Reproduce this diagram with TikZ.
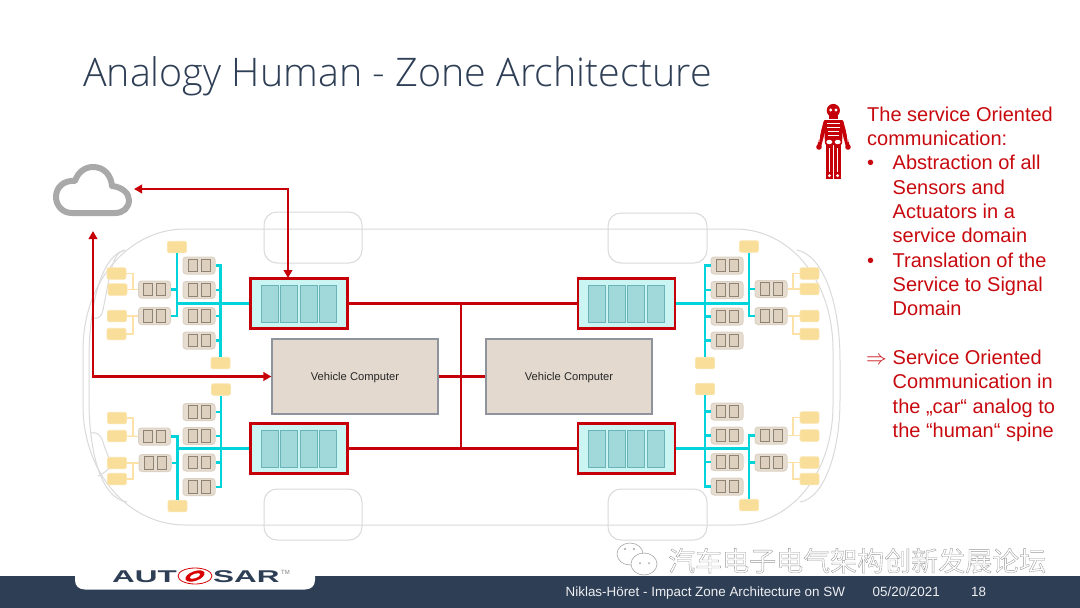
\documentclass[tikz,border=0pt]{standalone}
\usepackage{fontspec}
\usepackage{graphicx}
\usetikzlibrary{arrows.meta,calc}
\setmainfont{Liberation Sans}
\newfontfamily\titlefont{Open Sans Light}
\newfontfamily\cjkfont{Noto Sans CJK SC}
\definecolor{navy}{HTML}{2D3E55}
\definecolor{redline}{HTML}{C60008}
\definecolor{redtext}{HTML}{C80A0F}
\definecolor{busc}{HTML}{00D4DA}
\definecolor{yelf}{HTML}{F8DE98}
\definecolor{yeld}{HTML}{FBE5AE}
\definecolor{oral}{HTML}{FCE2A8}
\definecolor{ecuf}{HTML}{E6DDD0}
\definecolor{ecud}{HTML}{DCD2C4}
\definecolor{ecui}{HTML}{DDD0BF}
\definecolor{ecub}{HTML}{8F8373}
\definecolor{vcf}{HTML}{E3D9CE}
\definecolor{vcd}{HTML}{8E939C}
\definecolor{zonef}{HTML}{CBF5F3}
\definecolor{barf}{HTML}{A1D8DA}
\definecolor{bard}{HTML}{68B4B6}
\definecolor{carc}{HTML}{DADADA}
\definecolor{cloudc}{HTML}{A9A9A9}
\tikzset{
  ecubox/.style={draw=ecud,fill=ecuf,rounded corners=3pt,line width=1pt,minimum width=32pt,minimum height=17pt,inner sep=0pt},
  ecucell/.style={draw=ecub,fill=ecui,line width=1pt,minimum width=9pt,minimum height=12.5pt,inner sep=0pt},
  yelbox/.style={draw=yeld,fill=yelf,rounded corners=2pt,line width=0.8pt,minimum width=19pt,minimum height=11.5pt,inner sep=0pt},
  zonebox/.style={draw=redline,fill=zonef,line width=2.5pt,minimum width=97pt,minimum height=50pt,inner sep=0pt},
  zonebar/.style={draw=bard,fill=barf,line width=1pt,minimum width=17pt,minimum height=37pt,inner sep=0pt},
  vcbox/.style={draw=vcd,fill=vcf,line width=1.2pt,minimum width=166pt,minimum height=75pt,inner sep=0pt,font=\fontsize{11.2}{13}\selectfont,text=black!85},
  bus/.style={draw=busc,line width=2.5pt},
  ora/.style={draw=oral,line width=1.3pt},
  spine/.style={draw=redline,line width=2.5pt},
  sig/.style={draw=redline,line width=2.5pt,arrows={Triangle[length=8pt,width=8.5pt]-Triangle[length=8pt,width=8.5pt]}},
  wheel/.style={draw=carc,line width=1pt,rounded corners=13pt},
  carline/.style={draw=carc,line width=1pt},
  bodytext/.style={anchor=base west,inner sep=0pt,text=redtext,font=\fontsize{20}{24}\selectfont},
  foot/.style={anchor=base west,inner sep=0pt,text=white!92!navy,font=\fontsize{13.4}{15}\selectfont},
  logotext/.style={anchor=base west,inner sep=0pt,text=navy,font=\bfseries\fontsize{17}{18}\selectfont},
  x=1pt,y=-1pt
}
\newcommand\ecu[3]{%
  \node[ecubox] (#1) at (#2,#3) {};
  \node[ecucell] (#1a) at (#2-6.5,#3) {};
  \node[ecucell] (#1b) at (#2+6.5,#3) {};
}
\newcommand\yel[3]{\node[yelbox] (#1) at (#2,#3) {};}
\newcommand\zone[3]{%
  \node[zonebox] (#1) at (#2,#3) {};
  \node[zonebar] (#1a) at (#2-29.5,#3) {};
  \node[zonebar] (#1b) at (#2-10,#3) {};
  \node[zonebar] (#1c) at (#2+9.5,#3) {};
  \node[zonebar] (#1d) at (#2+29,#3) {};
}
\begin{document}
\begin{tikzpicture}
\useasboundingbox (0,0) rectangle (1080,608);
\fill[white] (0,0) rectangle (1080,608);

% car outline
\draw[carline] (185,229) -- (735,229) .. controls (790,229) and (833,280) .. (833,350) -- (833,405) .. controls (833,475) and (790,525) .. (735,525) -- (185,525) .. controls (130,525) and (83,475) .. (83,405) -- (83,350) .. controls (83,280) and (130,229) .. (185,229);
\draw[carline] (125,250) .. controls (103,255) and (89,300) .. (89,360) -- (89,400) .. controls (89,450) and (100,498) .. (127,502);
\draw[carline] (797,250) .. controls (822,255) and (840,300) .. (840,360) -- (840,400) .. controls (840,450) and (825,498) .. (800,502);
\draw[carline] (125,250) .. controls (112,252) and (110,275) .. (103,310) .. controls (101,318) and (98,319) .. (92,318);
\draw[carline] (90,433) .. controls (96,432) and (100,433) .. (103,442) .. controls (106,452) and (110,460) .. (112,465) .. controls (108,470) and (103,474) .. (98,476);
\draw[wheel] (264,212) rectangle (362,263);
\draw[wheel] (264,489) rectangle (362,540);
\draw[wheel] (608,213) rectangle (707,263);
\draw[wheel] (608,489) rectangle (707,540);

% cloud
\draw[draw=cloudc,line width=6pt,line join=round] (72,213) .. controls (62,213) and (56,205) .. (56,197) .. controls (56,187) and (64,180) .. (75,181) .. controls (78,172) and (85,167) .. (93,167) .. controls (104,167) and (111,175) .. (112,186) .. controls (122,187) and (129,193) .. (129,200) .. controls (129,208) and (123,213) .. (115,213) -- cycle;
\coordinate (cloudR) at (134,189);
\coordinate (cloudB) at (93,231);

% zones and computers
\zone{tl}{299}{303.5}
\zone{bl}{299}{448.5}
\zone{tr}{626.5}{303.5}
\zone{br}{626.5}{448.5}
\node[vcbox] (vcl) at (355,376.5) {\raisebox{-4.2pt}[0pt][0pt]{Vehicle Computer}};
\node[vcbox] (vcr) at (569,376.5) {\raisebox{-4.2pt}[0pt][0pt]{Vehicle Computer}};
\coordinate (hubT) at (461,303.5);
\coordinate (hubB) at (461,448.5);

% backbone
\draw[spine] (tl.east) -- (tr.west);
\draw[spine] (bl.east) -- (br.west);
\draw[spine] (hubT) -- (hubB);
\draw[spine] (vcl.east) -- (vcr.west);
\draw[sig] (cloudR) -| (288,278);
\draw[sig] (cloudB) |- (vcl.west);

% --- top left
\yel{tlYa}{177}{247} \yel{tlYb}{220.5}{363}
\ecu{tlEa}{199}{265.5} \ecu{tlEb}{199}{290} \ecu{tlEc}{199}{316} \ecu{tlEd}{199}{340.5}
\ecu{tlLa}{154.5}{289.5} \ecu{tlLb}{154.5}{316}
\yel{tlOa}{116.5}{273.5} \yel{tlOb}{117.5}{289.5} \yel{tlOc}{117}{316} \yel{tlOd}{116.5}{334}
\draw[bus] (tl.west) -- (tl.west -| tlYa.south);
\draw[bus] (tlYa.south) |- (tlLb.east);
\draw[bus] (tlLa.east) -- (tlLa.east -| tlYa.south);
\draw[bus] (tlEa.east) -| (tlYb.north);
\foreach \n in {tlEb,tlEc,tlEd} \draw[bus] (\n.east) -- (\n.east -| tlYb.north);
\draw[ora] (tlOa.east) -| (133,289.5) -- (tlLa.west);
\draw[ora] (tlOb.east) -- (tlLa.west);
\draw[ora] (tlOc.east) -- (tlLb.west);
\draw[ora] (tlOd.east) -| (133,316);

% --- bottom left
\yel{blYa}{221}{389.5} \yel{blYb}{177.5}{506}
\ecu{blEa}{199}{412} \ecu{blEb}{199}{436} \ecu{blEc}{199}{462.5} \ecu{blEd}{199}{487}
\ecu{blLa}{154.5}{436.5} \ecu{blLb}{155}{463}
\yel{blOa}{117}{418} \yel{blOb}{117}{436} \yel{blOc}{117}{463} \yel{blOd}{117}{479}
\draw[bus] (bl.west) -- (bl.west -| blYb.north);
\draw[bus] (blLa.east) -| (blYb.north);
\draw[bus] (blLb.east) -- (blLb.east -| blYb.north);
\draw[bus] (blYa.south) |- (blEd.east);
\foreach \n in {blEa,blEb,blEc} \draw[bus] (\n.east) -- (\n.east -| blYa.south);
\draw[ora] (blOa.east) -| (133,436.5) -- (blLa.west);
\draw[ora] (blOb.east) -- (blLa.west);
\draw[ora] (blOc.east) -- (blLb.west);
\draw[ora] (blOd.east) -| (133,463);

% --- top right
\yel{trYa}{749}{246.5} \yel{trYb}{705}{363}
\ecu{trEa}{727}{265.5} \ecu{trEb}{727}{290} \ecu{trEc}{727}{316.5} \ecu{trEd}{727}{340.5}
\ecu{trLa}{771}{289} \ecu{trLb}{771}{316}
\yel{trOa}{809.5}{273.5} \yel{trOb}{809.5}{289} \yel{trOc}{809.5}{316} \yel{trOd}{809.5}{334}
\draw[bus] (tr.east) -- (tr.east -| trYa.south);
\draw[bus] (trYa.south) |- (trLb.west);
\draw[bus] (trLa.west) -- (trLa.west -| trYa.south);
\draw[bus] (trEa.west) -| (trYb.north);
\foreach \n in {trEb,trEc,trEd} \draw[bus] (\n.west) -- (\n.west -| trYb.north);
\draw[ora] (trOa.west) -| (793,289) -- (trLa.east);
\draw[ora] (trOb.west) -- (trLa.east);
\draw[ora] (trOc.west) -- (trLb.east);
\draw[ora] (trOd.west) -| (793,316);

% --- bottom right
\yel{brYa}{705}{389} \yel{brYb}{749}{505}
\ecu{brEa}{727}{411.5} \ecu{brEb}{727}{435.5} \ecu{brEc}{727}{462} \ecu{brEd}{727}{486.5}
\ecu{brLa}{771}{435.5} \ecu{brLb}{771}{462.5}
\yel{brOa}{809.5}{417.5} \yel{brOb}{809.5}{435.5} \yel{brOc}{809.5}{462.5} \yel{brOd}{809.5}{479}
\draw[bus] (br.east) -- (br.east -| brYb.north);
\draw[bus] (brLa.west) -| (brYb.north);
\draw[bus] (brLb.west) -- (brLb.west -| brYb.north);
\draw[bus] (brYa.south) |- (brEd.west);
\foreach \n in {brEa,brEb,brEc} \draw[bus] (\n.west) -- (\n.west -| brYa.south);
\draw[ora] (brOa.west) -| (793,435.5) -- (brLa.east);
\draw[ora] (brOb.west) -- (brLa.east);
\draw[ora] (brOc.west) -- (brLb.east);
\draw[ora] (brOd.west) -| (793,462.5);

% title
\node[anchor=base west,inner sep=0pt,text=navy,font=\titlefont\fontsize{39.4}{42}\selectfont] (title) at (83,86) {Analogy Human - Zone Architecture};

% skeleton icon
\begin{scope}
\fill[redline] (833.3,110.5) circle (6.6);
\fill[redline] (829,112) rectangle (838,118.5);
\fill[white] (830.7,110) circle (1.7) (836,110) circle (1.7);
\fill[redline,rounded corners=2pt] (824,120) -- (843,120) -- (842,145) -- (825,145) -- cycle;
\draw[redline,line width=4pt,line cap=round] (825.5,122) -- (819.5,145);
\draw[redline,line width=4pt,line cap=round] (841.5,122) -- (847.5,145);
\fill[redline] (819,147) circle (2.8) (848,147) circle (2.8);
\fill[redline] (826,143) rectangle (832.7,179);
\fill[redline] (834.3,143) rectangle (841,179);
\draw[white,line width=1.1pt] (827,123.5) -- (840,123.5) (827,127.5) -- (840,127.5) (828,131.5) -- (839,131.5) (828,135.5) -- (839,135.5);
\draw[white,line width=1.4pt] (829.4,148) -- (829.4,172) (837.6,148) -- (837.6,172);
\fill[white] (829.3,142) ellipse (3 and 2.2) (837.7,142) ellipse (3 and 2.2);
\fill[white] (829.4,175.7) circle (1.6) (837.6,175.7) circle (1.6);
\draw[white,line width=0.9pt] (820.8,127) -- (818.8,142) (846.2,127) -- (848.2,142);
\end{scope}

% side text
\node[bodytext] (s1) at (867,121) {The service Oriented};
\node[bodytext] (s2) at (867,145) {communication:};
\node[bodytext] (b1) at (867,169.5) {•};
\node[bodytext] (s3) at (892.5,169.5) {Abstraction of all};
\node[bodytext] (s4) at (892.5,194) {Sensors and};
\node[bodytext] (s5) at (892.5,218) {Actuators in a};
\node[bodytext] (s6) at (892.5,242.5) {service domain};
\node[bodytext] (b2) at (867,267) {•};
\node[bodytext] (s7) at (892.5,267) {Translation of the};
\node[bodytext] (s8) at (892.5,291) {Service to Signal};
\node[bodytext] (s9) at (892.5,315.5) {Domain};
\node[bodytext] (arr) at (866,364) {$\Rightarrow$};
\node[bodytext] (s10) at (892.5,364) {Service Oriented};
\node[bodytext] (s11) at (892.5,388.5) {Communication in};
\node[bodytext] (s12) at (892.5,413) {the „car“ analog to};
\node[bodytext] (s13) at (892.5,437) {the “human“ spine};

% footer
\fill[navy] (0,576) rectangle (1080,608);
\fill[white] (75,575) -- (315,575) -- (315,580) .. controls (315,586) and (311,589.5) .. (305,589.5) -- (85,589.5) .. controls (79,589.5) and (75,586) .. (75,580) -- cycle;
\node[logotext] (logoa) at (112,582) {\scalebox{1.85}[1]{AUT}};
\node[logotext] (logob) at (213,582) {\scalebox{1.85}[1]{SAR}};
\node[anchor=base west,inner sep=0pt,text=gray,font=\fontsize{6}{6}\selectfont] (tm) at (281,574) {TM};
\draw[red!85!black,line width=0.8pt] (195,576) ellipse (17 and 8);
\fill[red!85!black,rotate around={20:(195,576)}] (195,576) ellipse (10 and 4.8);
\fill[white,rotate around={20:(195,576)}] (195,576) ellipse (5.5 and 2.2);
\node[foot] (f1) at (565.5,596.5) {Niklas-Höret - Impact Zone Architecture on SW};
\node[foot] (f2) at (872.5,596.5) {05/20/2021};
\node[foot] (f3) at (971,596.5) {18};

% watermark
\draw[gray!70,fill=white,line width=0.6pt] (630,554) ellipse (13 and 11);
\draw[gray!70,fill=white,line width=0.6pt] (644,564) ellipse (13 and 11);
\fill[gray!70] (625,549) circle (1.2) (634,549) circle (1.2) (640,563) circle (1) (649,563) circle (1);
\node[anchor=base west,inner sep=0pt,font=\cjkfont\fontsize{27}{30}\selectfont] (wm) at (668,571) {\special{pdf:code q 2 Tr 0.35 w 0.6 G 1 g}汽车电子电气架构创新发展论坛\special{pdf:code Q}};
\end{tikzpicture}
\end{document}
